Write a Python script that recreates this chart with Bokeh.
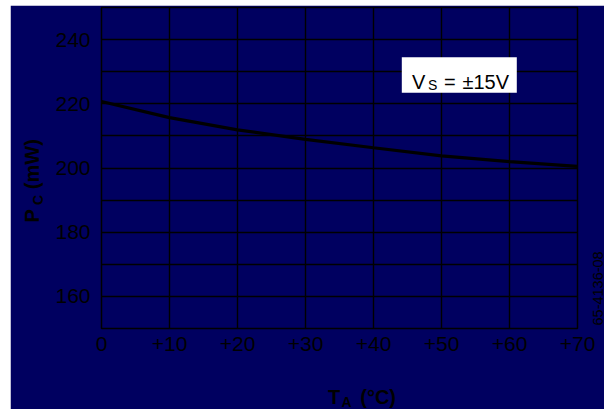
import math
from bokeh.plotting import figure
from bokeh.models import Label, BoxAnnotation, FixedTicker, Range1d
from bokeh.embed import file_html
from bokeh.resources import INLINE

# ---- data ----
temp_c = [0, 10, 20, 30, 40, 50, 60, 70]
power_mw = [220.7, 215.7, 211.9, 208.9, 206.3, 203.8, 202.0, 200.5]
x_ticks = [0, 10, 20, 30, 40, 50, 60, 70]
x_tick_labels = ["0", "+10", "+20", "+30", "+40", "+50", "+60", "+70"]
y_ticks = [160, 180, 200, 220, 240]
y_grid = [150, 160, 170, 180, 190, 200, 210, 220, 230, 240, 250]
x_grid = [0, 10, 20, 30, 40, 50, 60, 70]

NAVY = "#000060"
FONT = "Liberation Sans"

# page geometry (reference pixels)
FIG_L, FIG_T = 10, 5
FR_L, FR_R, FR_T, FR_B = 101, 577, 7, 328

p = figure(width=604 - FIG_L, height=409 - FIG_T, output_backend="svg",
           toolbar_location=None,
           x_range=Range1d(0, 70), y_range=Range1d(150, 250),
           min_border_left=FR_L - FIG_L, min_border_right=604 - FR_R,
           min_border_top=FR_T - FIG_T, min_border_bottom=409 - FR_B)
p.styles = {"margin-left": f"{FIG_L}px", "margin-top": f"{FIG_T}px"}
p.background_fill_color = NAVY
p.border_fill_color = NAVY
p.outline_line_color = "black"
p.outline_line_width = 1.5

# axes
for ax in (p.xaxis, p.yaxis):
    ax.axis_line_color = None
    ax.major_tick_line_color = None
    ax.minor_tick_line_color = None
    ax.major_tick_in = 0
    ax.major_tick_out = 0
    ax.minor_tick_in = 0
    ax.minor_tick_out = 0
    ax.major_label_text_color = "black"
    ax.major_label_text_font = FONT
    ax.major_label_text_font_size = "21px"

p.xaxis.ticker = FixedTicker(ticks=x_ticks)
p.xaxis.major_label_overrides = {t: l for t, l in zip(x_ticks, x_tick_labels)}
p.xaxis.major_label_standoff = 8
p.yaxis.ticker = FixedTicker(ticks=y_ticks)
p.yaxis.major_label_standoff = 11

# grid
p.xgrid.ticker = FixedTicker(ticks=x_grid)
p.ygrid.ticker = FixedTicker(ticks=y_grid)
for g in (p.xgrid, p.ygrid):
    g.grid_line_color = "black"
    g.grid_line_width = 1.4
    g.grid_line_alpha = 1.0

# curve
p.line(temp_c, power_mw, line_color="black", line_width=3.2)

def px_x(px):
    return (px - FR_L) / (FR_R - FR_L) * 70

def px_y(py):
    return 250 - (py - FR_T) / (FR_B - FR_T) * 100

# conditions box
p.add_layout(BoxAnnotation(left=px_x(401.3), right=px_x(516.3),
                           top=px_y(56.7), bottom=px_y(92.3),
                           fill_color="white", fill_alpha=1.0, line_color=None,
                           level="overlay"))

def lab(px, py, text, size, bold=False, angle=0.0, place="center"):
    lbl = Label(x=px_x(px), y=px_y(py),
                text=text, text_font=FONT,
                text_font_size=size, text_color="black",
                text_font_style="bold" if bold else "normal",
                text_baseline="alphabetic", text_align="left",
                angle=angle, level="overlay")
    p.add_layout(lbl, place)

# V_S = ±15V
lab(411.5, 81, "V", "20px")
lab(427.5, 84.5, "S", "14px")
lab(443.5, 81, "=", "20px")
lab(462, 81, "±15V", "20px")

# x axis title T_A (°C)   (side panels are not clipped to the frame)
lab(341, 401.5, "A", "14px", bold=True, place="below")
lab(327.5, 396.5, "T\u2003(°C)", "20px", bold=True, place="below")

# y axis title P_C (mW)
lab(31, 222, "P\u2003(mW)", "20px", bold=True, angle=math.pi / 2, place="left")
lab(37, 204.5, "C", "14px", bold=True, angle=math.pi / 2, place="left")

# figure code
lab(597, 325, "65-4136-08", "14.5px", angle=math.pi / 2, place="right")

open("out.html", "w").write(file_html(p, INLINE))
